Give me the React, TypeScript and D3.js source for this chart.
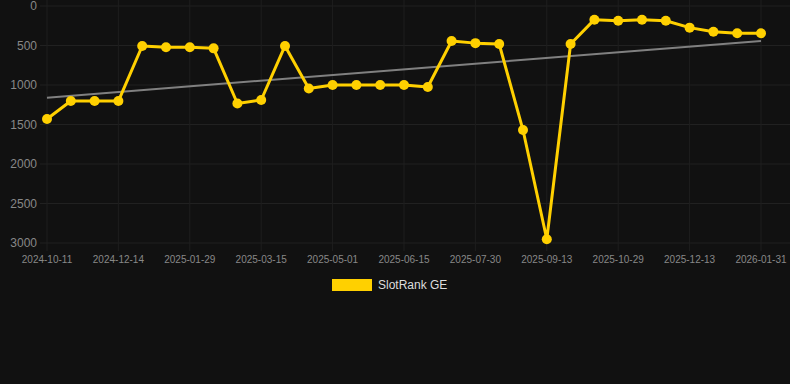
import React from "react";
import * as d3 from "d3";

const categories: string[] = [
  "2024-10-11", "2024-11-02", "2024-11-23", "2024-12-14", "2024-12-29", "2025-01-13",
  "2025-01-29", "2025-02-13", "2025-02-28", "2025-03-15", "2025-03-31", "2025-04-16",
  "2025-05-01", "2025-05-16", "2025-05-31", "2025-06-15", "2025-06-30", "2025-07-15",
  "2025-07-30", "2025-08-14", "2025-08-29", "2025-09-13", "2025-09-28", "2025-10-13",
  "2025-10-29", "2025-11-13", "2025-11-28", "2025-12-13", "2025-12-29", "2026-01-15",
  "2026-01-31",
];

const rankValues: number[] = [
  1430, 1203, 1203, 1203, 506, 522, 522, 536, 1234, 1190, 506, 1044,
  1000, 1000, 1000, 1000, 1025, 443, 470, 481, 1570, 2953, 481, 173,
  186, 173, 186, 274, 325, 346, 346,
];

const trendValues: number[] = [1160, 443];

const yTicks: number[] = [0, 500, 1000, 1500, 2000, 2500, 3000];

const seriesName = "SlotRank GE";

export default function App() {
  const W = 790;
  const H = 384;
  const left = 47;
  const right = 761;
  const top = 6;
  const bottom = 243;

  const x = d3.scalePoint<string>().domain(categories).range([left, right]);
  const y = d3.scaleLinear().domain([0, 3000]).range([top, bottom]);

  const line = d3
    .line<number>()
    .x((_, i) => x(categories[i]) as number)
    .y((d) => y(d));

  const labelCats = categories.filter((_, i) => i % 3 === 0);
  const trendX = [x(categories[0]) as number, x(categories[categories.length - 1]) as number];

  return (
    <svg
      width={W}
      height={H}
      style={{ position: "absolute", left: 0, top: 0, background: "#111111" }}
      fontFamily="Liberation Sans, Arial, sans-serif"
    >
      <rect x={0} y={0} width={W} height={H} fill="#111111" />
      {yTicks.map((t) => (
        <line key={"h" + t} x1={40} x2={790} y1={y(t)} y2={y(t)} stroke="#212121" strokeWidth={1} />
      ))}
      {labelCats.map((c) => (
        <line
          key={"v" + c}
          x1={x(c) as number}
          x2={x(c) as number}
          y1={0}
          y2={bottom + 8}
          stroke="#1e1e1e"
          strokeWidth={1}
        />
      ))}
      {yTicks.map((t) => (
        <text
          key={"yl" + t}
          x={37}
          y={y(t)}
          dy="0.35em"
          textAnchor="end"
          fontSize={12}
          fill="#888888"
        >
          {t}
        </text>
      ))}
      {labelCats.map((c) => (
        <text
          key={"xl" + c}
          x={x(c) as number}
          y={263}
          textAnchor="middle"
          fontSize={10}
          fill="#888888"
        >
          {c}
        </text>
      ))}
      <line
        x1={trendX[0]}
        x2={trendX[1]}
        y1={y(trendValues[0])}
        y2={y(trendValues[1])}
        stroke="#808080"
        strokeWidth={2}
      />
      <path d={line(rankValues) || ""} fill="none" stroke="#FFD000" strokeWidth={3} strokeLinejoin="round" />
      {rankValues.map((v, i) => (
        <circle key={"p" + i} cx={x(categories[i]) as number} cy={y(v)} r={5} fill="#FFD000" />
      ))}
      <rect x={332} y={279} width={40} height={12} fill="#FFD000" />
      <text x={378} y={289} fontSize={12} fill="#dddddd">
        {seriesName}
      </text>
    </svg>
  );
}
